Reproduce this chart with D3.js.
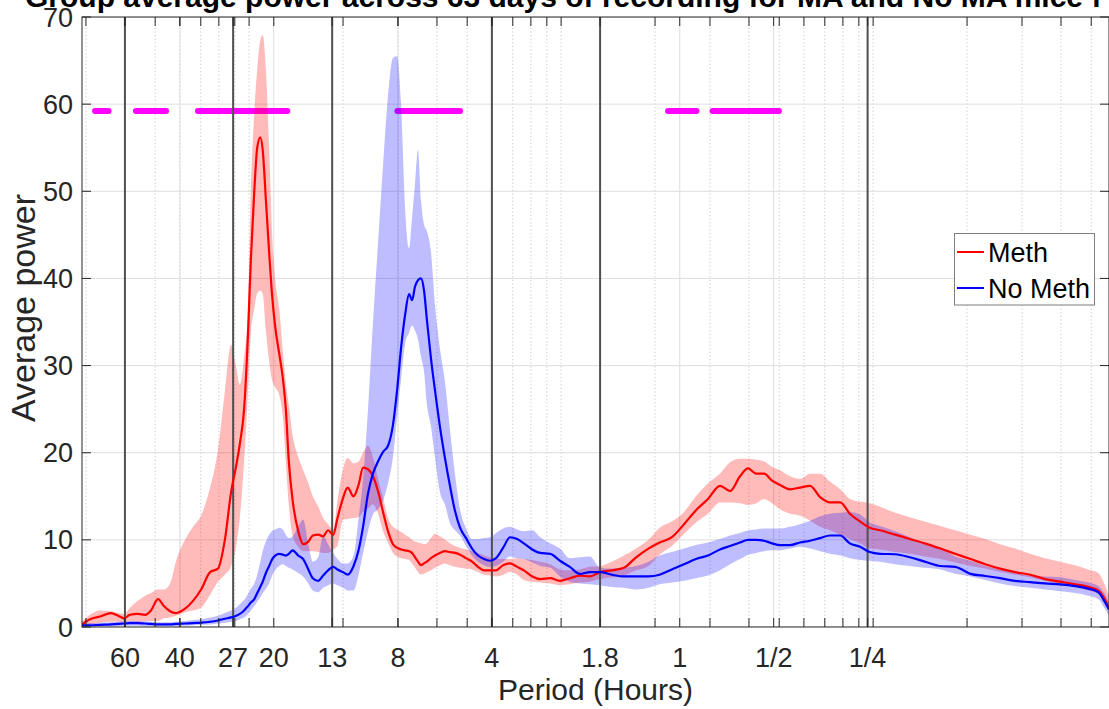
<!DOCTYPE html>
<html>
<head>
<meta charset="utf-8">
<script src="https://cdn.jsdelivr.net/npm/d3@7"></script>
<style>
html,body{margin:0;padding:0;background:#fff;}
svg{display:block;font-family:"Liberation Sans",Arial,Helvetica,sans-serif;}
</style>
</head>
<body>
<script>
// ---------------- DATA ----------------
// Period (hours) of each sample
const periods = [82.4,77.6,72.1,66.5,63.1,60.4,57.8,54.5,51.7,49.5,
47.0,45.0,43.0,41.2,38.5,36.3,34.2,32.0,30.2,28.7,
27.4,26.4,25.7,24.9,24.2,23.7,23.1,22.6,22.1,21.7,
21.2,20.7,20.3,19.8,19.2,18.7,18.3,17.9,17.4,16.7,
16.1,15.5,15.0,14.4,13.9,13.4,12.9,12.5,12.0,11.6,
11.1,10.7,10.35,9.98,9.62,9.27,8.93,8.61,8.30,8.06,
7.82,7.59,7.37,7.21,7.05,6.90,6.75,6.60,6.46,6.27,
6.09,5.87,5.65,5.45,5.25,5.06,4.84,4.63,4.43,4.24,
4.06,3.88,3.68,3.50,3.32,3.16,2.97,2.80,2.60,2.42,
2.25,2.09,1.94,1.80,1.65,1.51,1.38,1.26,1.16,1.06,
0.969,0.887,0.812,0.743,0.690,0.641,0.604,0.569,0.537,0.506,
0.477,0.443,0.412,0.382,0.355,0.330,0.306,0.285,0.264,0.246,
0.228,0.204,0.183,0.164,0.146,0.131,0.117,0.105,0.0941,0.0842,
0.0754,0.0675,0.0604,0.0541,0.0491,0.0456,0.0436,0.0421];

// Meth group: mean, lower and upper edge of shaded band
const methMean = [0.3,0.9,1.2,1.6,1.3,1.0,1.4,1.5,1.4,1.9,
3.2,2.4,1.8,1.6,2.1,3.0,4.3,6.3,6.7,10.0,
15.5,18.5,21.0,25.0,33.5,42.0,50.0,55.0,56.2,54.7,
49.0,43.0,38.5,34.5,31.3,28.5,25.0,19.0,14.5,11.0,
9.5,9.8,10.5,10.6,10.4,11.1,10.6,12.5,14.8,16.0,
15.0,16.3,18.3,18.1,17.3,15.6,13.2,11.0,9.5,9.1,
8.9,8.8,8.7,8.5,8.0,7.5,7.1,7.3,7.5,7.9,
8.2,8.5,8.7,8.6,8.5,8.3,7.9,7.5,6.9,6.5,
6.5,6.5,7.1,7.3,6.9,6.5,5.8,5.5,5.6,5.3,
5.6,5.9,5.8,6.3,6.5,6.8,8.0,9.0,9.7,10.3,
11.8,13.4,14.7,16.2,15.6,17.3,18.2,17.6,17.6,16.8,
16.3,15.8,16.0,16.2,14.9,14.3,14.3,13.0,12.1,11.4,
11.1,10.6,10.1,9.6,9.0,8.4,7.8,7.2,6.7,6.3,
6.0,5.5,5.2,4.9,4.6,4.2,3.3,2.2];
const methLow = [0.0,0.3,0.5,0.6,0.6,0.6,0.6,0.6,0.7,0.7,
0.7,1.0,1.1,1.3,1.7,1.9,2.2,3.7,5.2,6.0,
7.0,9.3,12.5,19.0,27.0,33.7,36.5,38.3,38.6,38.2,
34.0,30.5,28.5,27.5,26.6,24.0,19.0,14.0,10.5,9.2,
8.7,8.7,8.7,8.6,8.5,8.5,8.9,9.3,12.3,12.4,
12.5,12.6,13.2,13.6,14.1,13.0,11.0,9.7,8.5,8.1,
7.9,7.8,7.7,7.3,6.8,6.3,6.0,6.1,6.3,6.5,
6.8,7.1,7.3,7.1,6.9,6.8,6.7,6.6,6.3,6.0,
5.9,5.8,6.0,6.3,6.0,5.4,5.2,5.1,5.0,4.8,
4.9,5.1,5.2,5.5,5.7,5.9,6.5,7.0,8.3,9.3,
10.7,12.0,13.0,14.3,14.3,14.2,14.0,14.2,14.7,14.2,
13.5,13.0,12.8,12.2,11.5,11.1,10.6,10.1,9.6,9.0,
8.9,8.6,8.4,8.1,7.8,7.4,7.0,6.7,6.3,6.0,
5.7,5.3,4.9,4.6,4.2,3.8,3.0,2.0];
const methHigh = [0.6,1.4,1.9,1.8,1.6,1.5,2.2,3.0,3.6,3.9,
4.3,4.3,5.0,7.5,10.0,11.5,12.8,16.0,20.3,27.0,
32.4,29.8,27.8,31.0,36.5,50.0,59.0,64.0,67.3,67.9,
64.0,55.0,46.0,40.0,36.5,31.5,28.0,25.5,22.0,19.5,
18.0,16.5,15.0,13.8,12.5,11.8,11.2,14.5,18.1,19.4,
18.8,19.0,20.0,20.8,19.5,17.0,14.8,12.5,11.5,11.2,
10.9,10.6,10.3,10.0,9.8,9.7,9.6,9.5,9.6,10.2,
10.7,10.4,10.0,9.6,9.3,9.1,8.9,8.7,8.5,8.2,
8.0,7.8,7.8,7.8,7.9,7.8,7.7,7.5,7.2,6.6,
6.5,6.6,6.9,7.0,7.5,8.2,9.0,10.0,11.4,12.1,
13.2,15.0,16.5,17.6,18.9,19.3,19.3,19.2,19.0,18.4,
18.0,17.3,17.0,17.6,17.6,16.7,15.8,14.7,14.4,14.2,
13.8,13.1,12.6,12.1,11.6,11.1,10.6,10.1,9.5,9.0,
8.4,7.9,7.5,7.1,6.6,6.2,5.0,3.6];

// No Meth group: mean, lower and upper edge of shaded band
const noMethMean = [0.2,0.2,0.25,0.3,0.35,0.4,0.45,0.45,0.4,0.35,
0.3,0.3,0.3,0.35,0.4,0.45,0.5,0.6,0.75,0.95,
1.1,1.3,1.5,1.9,2.4,2.8,3.2,3.9,4.6,5.2,
6.2,7.0,7.7,8.2,8.4,8.3,8.2,8.4,8.8,8.2,
7.8,6.6,5.6,5.3,5.9,6.5,6.9,6.6,6.3,6.0,
7.0,8.8,11.5,15.3,17.6,19.0,20.1,20.8,23.2,27.0,
32.0,35.8,38.2,37.5,39.1,39.8,40.0,38.6,35.2,30.8,
27.2,23.0,19.3,16.2,13.3,11.4,10.2,9.0,8.2,7.8,
7.6,7.9,9.1,10.3,10.1,9.6,8.9,8.5,8.4,7.6,
6.9,6.1,6.3,6.3,6.0,5.8,5.8,5.8,6.0,6.6,
7.2,7.8,8.2,8.9,9.3,9.7,10.0,10.0,9.9,9.6,
9.4,9.4,9.7,9.9,10.2,10.5,10.5,9.6,9.2,8.6,
8.4,8.35,8.0,7.5,7.0,6.9,6.1,5.85,5.6,5.3,
5.15,5.0,4.9,4.7,4.4,4.0,3.0,2.0];
const noMethLow = [0.0,0.05,0.1,0.1,0.1,0.15,0.15,0.15,0.1,0.1,
0.1,0.1,0.1,0.1,0.15,0.2,0.25,0.3,0.4,0.5,
0.6,0.7,0.9,1.1,1.5,1.9,2.4,2.9,3.4,3.9,
4.4,5.0,5.8,6.5,7.0,7.2,7.0,6.8,6.6,6.2,
5.8,5.0,4.2,4.0,4.5,4.8,5.0,4.8,4.5,4.2,
4.2,6.0,8.5,11.0,12.9,13.5,14.5,16.5,19.5,24.0,
28.5,32.5,33.8,34.6,34.0,33.0,31.0,29.3,25.5,23.0,
19.5,15.5,14.0,11.9,11.1,10.5,9.3,8.2,7.5,7.1,
6.9,7.0,7.5,8.1,7.9,7.8,7.4,7.0,6.8,5.8,
5.2,5.0,4.9,4.8,4.6,4.5,4.3,4.5,4.9,5.1,
5.3,5.6,5.9,6.5,7.2,7.8,8.3,8.5,8.7,8.8,
8.8,9.0,9.2,9.0,8.7,8.4,8.2,7.9,7.7,7.6,
7.5,7.2,7.0,6.8,6.6,6.1,5.8,5.4,5.0,4.7,
4.5,4.3,4.1,3.9,3.6,3.2,2.2,1.3];
const noMethHigh = [0.4,0.45,0.5,0.55,0.6,0.65,0.7,0.7,0.65,0.6,
0.55,0.55,0.55,0.6,0.7,0.8,0.9,1.1,1.3,1.6,
1.9,2.2,2.6,3.1,3.8,4.4,5.0,6.0,7.5,8.7,
9.8,10.6,11.0,11.2,11.4,11.2,10.6,10.2,10.4,11.5,
12.3,9.5,7.5,8.0,10.5,9.5,8.5,7.8,7.3,7.3,
8.2,12.5,17.0,25.0,35.0,44.0,53.0,61.0,65.3,65.5,
60.0,48.0,43.5,47.0,51.0,54.8,49.0,46.2,45.4,43.0,
37.0,32.0,28.0,22.6,17.5,13.5,11.3,10.1,10.1,10.2,
10.3,10.8,11.3,11.5,11.2,11.0,11.1,10.3,9.6,9.0,
7.9,8.0,8.1,6.8,6.7,6.8,7.0,7.5,8.2,8.6,
9.0,9.4,9.7,10.1,10.5,10.8,11.1,11.2,11.3,11.3,
11.3,11.5,11.8,12.2,12.7,13.0,13.1,13.2,12.9,12.0,
11.6,11.0,10.3,9.5,9.0,8.1,7.6,7.0,6.6,6.2,
5.9,5.8,5.7,5.4,5.1,4.7,3.9,2.8];

// Significant period ranges (hours) drawn as magenta bars
const sigStart = [74.8, 55.3, 35.0, 8.03, 1.09, 0.785];
const sigEnd   = [67.7, 44.3, 18.1, 5.06, 0.884, 0.481];
const sigLevel = 59.2;

// Axis ticks
const tickPeriods = [60, 40, 27, 20, 13, 8, 4, 1.8, 1, 0.5, 0.25];
const tickLabels  = ["60","40","27","20","13","8","4","1.8","1","1/2","1/4"];
const markerPeriods = [60, 27, 13, 4, 1.8, 0.25];
// minor ticks / grid at log decades of frequency (cycles per day)
const minorFreqCPD = [0.3,0.4,0.5,0.6,0.7,0.8,0.9,1,2,3,4,5,6,7,8,9,10,20,30,40,50,60,70,80,90,100,200,300,400,500];
const yTicks = [0,10,20,30,40,50,60,70];

const seriesNames = ["Meth","No Meth"];
const seriesColors = ["#ff0000","#0000ff"];

const titleText = "Group average power across 63 days of recording for MA and No MA mice f";
const xLabel = "Period (Hours)";
const yLabel = "Average power";

// ---------------- LAYOUT ----------------
const W = 1109, H = 709;
const L = 82, R = 1109, T = 17, B = 627;

const svg = d3.select("body").append("svg").attr("width", W).attr("height", H);
svg.append("rect").attr("width", W).attr("height", H).attr("fill", "#fff");

const x = d3.scaleLog().domain([82.36, 0.0421]).range([L, R]);
const y = d3.scaleLinear().domain([0, 70]).range([B, T]);

svg.append("clipPath").attr("id","plotclip").append("rect")
  .attr("x", L).attr("y", T).attr("width", R - L).attr("height", B - T);

const plot = svg.append("g").attr("clip-path","url(#plotclip)");

// minor x grid (dotted)
const minorPeriods = minorFreqCPD.map(f => 24 / f);
plot.append("g").selectAll("line").data(minorPeriods).join("line")
  .attr("x1", d => x(d)).attr("x2", d => x(d)).attr("y1", T).attr("y2", B)
  .attr("stroke", "#c8c8c8").attr("stroke-width", 1).attr("stroke-dasharray", "1.2,2.4");

// major x grid
plot.append("g").selectAll("line").data(tickPeriods).join("line")
  .attr("x1", d => x(d)).attr("x2", d => x(d)).attr("y1", T).attr("y2", B)
  .attr("stroke", "#dedede").attr("stroke-width", 1);

// y grid
plot.append("g").selectAll("line").data(yTicks).join("line")
  .attr("x1", L).attr("x2", R).attr("y1", d => y(d)).attr("y2", d => y(d))
  .attr("stroke", "#dedede").attr("stroke-width", 1);

// significance bars
plot.append("g").selectAll("line").data(sigStart.map((s, i) => [s, sigEnd[i]])).join("line")
  .attr("x1", d => x(d[0])).attr("x2", d => x(d[1]))
  .attr("y1", y(sigLevel)).attr("y2", y(sigLevel))
  .attr("stroke", "#ff00ff").attr("stroke-width", 6).attr("stroke-linecap", "round");

// build rows
const rows = periods.map((p, i) => ({
  p,
  m: methMean[i], ml: methLow[i], mh: methHigh[i],
  n: noMethMean[i], nl: noMethLow[i], nh: noMethHigh[i]
}));

const curve = d3.curveMonotoneX;
const areaGen = (lo, hi) => d3.area().curve(curve)
  .x(d => x(d.p)).y0(d => y(d[lo])).y1(d => y(d[hi]));
const lineGen = key => d3.line().curve(curve).x(d => x(d.p)).y(d => y(d[key]));

plot.append("path").datum(rows).attr("d", areaGen("ml", "mh"))
  .attr("fill", "#ff0000").attr("fill-opacity", 0.27).attr("stroke", "none");
plot.append("path").datum(rows).attr("d", areaGen("nl", "nh"))
  .attr("fill", "#0000ff").attr("fill-opacity", 0.26).attr("stroke", "none");

// dark vertical marker lines
plot.append("g").selectAll("line").data(markerPeriods).join("line")
  .attr("x1", d => x(d)).attr("x2", d => x(d)).attr("y1", T).attr("y2", B)
  .attr("stroke", "#505050").attr("stroke-width", 2);

plot.append("path").datum(rows).attr("d", lineGen("m"))
  .attr("fill", "none").attr("stroke", seriesColors[0]).attr("stroke-width", 2.2);
plot.append("path").datum(rows).attr("d", lineGen("n"))
  .attr("fill", "none").attr("stroke", seriesColors[1]).attr("stroke-width", 2.2);

// ---------------- AXES ----------------
const axisColor = "#262626";
const tl = 9;
const ax = svg.append("g");
ax.append("rect").attr("x", L).attr("y", T).attr("width", R - L).attr("height", B - T)
  .attr("fill", "none").attr("stroke", axisColor).attr("stroke-width", 1);

// x ticks (major + minor) bottom and top
const allXTicks = tickPeriods.concat(minorPeriods);
ax.append("g").selectAll("line").data(allXTicks).join("line")
  .attr("x1", d => x(d)).attr("x2", d => x(d)).attr("y1", B).attr("y2", B - tl)
  .attr("stroke", axisColor).attr("stroke-width", 1);
ax.append("g").selectAll("line").data(allXTicks).join("line")
  .attr("x1", d => x(d)).attr("x2", d => x(d)).attr("y1", T).attr("y2", T + tl)
  .attr("stroke", axisColor).attr("stroke-width", 1);
// y ticks left and right
ax.append("g").selectAll("line").data(yTicks).join("line")
  .attr("x1", L).attr("x2", L + tl).attr("y1", d => y(d)).attr("y2", d => y(d))
  .attr("stroke", axisColor);
ax.append("g").selectAll("line").data(yTicks).join("line")
  .attr("x1", R - tl).attr("x2", R).attr("y1", d => y(d)).attr("y2", d => y(d))
  .attr("stroke", axisColor);

// tick labels
ax.append("g").selectAll("text").data(tickPeriods).join("text")
  .attr("x", d => x(d)).attr("y", 667).attr("text-anchor", "middle")
  .attr("font-size", 27).attr("fill", axisColor)
  .text((d, i) => tickLabels[i]);
ax.append("g").selectAll("text").data(yTicks).join("text")
  .attr("x", 73).attr("y", d => y(d) + 9.5).attr("text-anchor", "end")
  .attr("font-size", 27).attr("fill", axisColor)
  .text(d => d);

// axis labels
svg.append("text").attr("x", (L + R) / 2).attr("y", 700).attr("text-anchor", "middle")
  .attr("font-size", 30).attr("fill", axisColor).text(xLabel);
svg.append("text").attr("transform", "translate(35,308) rotate(-90)")
  .attr("text-anchor", "middle").attr("font-size", 34).attr("fill", axisColor).text(yLabel);

// title
svg.append("text").attr("x", 25).attr("y", 7).attr("text-anchor", "start")
  .attr("font-size", 30).attr("font-weight", "bold").attr("fill", "#000").text(titleText);

// ---------------- LEGEND ----------------
const lg = svg.append("g");
lg.append("rect").attr("x", 954.5).attr("y", 233.5).attr("width", 140).attr("height", 71.5)
  .attr("fill", "#fff").attr("stroke", "#7f7f7f").attr("stroke-width", 1);
seriesNames.forEach((name, i) => {
  const cy = 252 + i * 36;
  lg.append("line").attr("x1", 957).attr("x2", 984).attr("y1", cy).attr("y2", cy)
    .attr("stroke", seriesColors[i]).attr("stroke-width", 2);
  lg.append("text").attr("x", 988).attr("y", cy + 10).attr("font-size", 27)
    .attr("fill", "#000").text(name);
});
</script>
</body>
</html>
